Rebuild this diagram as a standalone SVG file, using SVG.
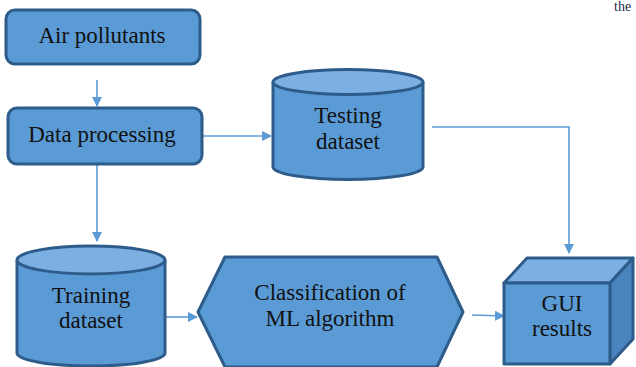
<svg xmlns="http://www.w3.org/2000/svg" width="636" height="367" viewBox="0 0 636 367" font-family="Liberation Serif, Times New Roman, serif">
  <style>
    .shape { fill: #5B9BD5; stroke: #2E5C8A; stroke-width: 3; stroke-linejoin: round; }
    .light { fill: #7DB0E2; stroke: #2E5C8A; stroke-width: 3; stroke-linejoin: round; }
    .dark { fill: #4A84BF; stroke: #2E5C8A; stroke-width: 3; stroke-linejoin: round; }
    .lbl { font-size: 23px; fill: #111111; text-anchor: middle; }
    .conn { fill: none; stroke: #5B9BD5; stroke-width: 1.6; }
  </style>
  <defs>
    <marker id="arrow" viewBox="0 0 10 10" refX="9" refY="5" markerWidth="10" markerHeight="10" markerUnits="userSpaceOnUse" orient="auto">
      <path d="M0,0 L10,5 L0,10 z" fill="#5B9BD5"/>
    </marker>
  </defs>

  <rect width="636" height="367" fill="#ffffff"/>

  <!-- connectors -->
  <g id="connectors">
    <line class="conn" x1="97" y1="80" x2="97" y2="106" marker-end="url(#arrow)"/>
    <line class="conn" x1="203" y1="136" x2="271" y2="136" marker-end="url(#arrow)"/>
    <line class="conn" x1="97" y1="165" x2="97" y2="241" marker-end="url(#arrow)"/>
    <polyline class="conn" points="432,127 569,127 569,253" marker-end="url(#arrow)"/>
    <line class="conn" x1="166" y1="317" x2="197" y2="317" marker-end="url(#arrow)"/>
    <line class="conn" x1="472" y1="315" x2="504" y2="316" marker-end="url(#arrow)"/>
  </g>

  <g id="air-pollutants">
    <rect class="shape" x="6" y="10" width="194" height="54" rx="9"/>
    <text class="lbl" x="102" y="43">Air pollutants</text>
  </g>

  <g id="data-processing">
    <rect class="shape" x="8" y="108" width="194" height="56" rx="9"/>
    <text class="lbl" x="102" y="142">Data processing</text>
  </g>

  <g id="testing-dataset">
    <path class="shape" d="M273,82 L273,167 A75,12.5 0 0 0 423,167 L423,82"/>
    <ellipse class="light" cx="348" cy="82" rx="75" ry="12.5"/>
    <text class="lbl" x="348" y="123">Testing</text>
    <text class="lbl" x="348" y="149">dataset</text>
  </g>

  <g id="training-dataset">
    <path class="shape" d="M17,260 L17,353 A74,13 0 0 0 165,353 L165,260"/>
    <ellipse class="light" cx="91" cy="260" rx="74" ry="14"/>
    <text class="lbl" x="91" y="303">Training</text>
    <text class="lbl" x="91" y="328">dataset</text>
  </g>

  <g id="classification">
    <polygon class="shape" points="198,312 225,257 437,257 463,312 437,367 225,367"/>
    <text class="lbl" x="330" y="300">Classification of</text>
    <text class="lbl" x="330" y="326">ML algorithm</text>
  </g>

  <g id="gui-results">
    <polygon class="light" points="504,283 527,258 633,258 610,283"/>
    <polygon class="dark" points="610,283 633,258 633,339 610,364"/>
    <rect class="shape" x="504" y="283" width="106" height="81"/>
    <text class="lbl" x="562" y="311">GUI</text>
    <text class="lbl" x="562" y="336">results</text>
  </g>

  <text x="614" y="11" font-size="14" fill="#1a2a44">the</text>
</svg>
